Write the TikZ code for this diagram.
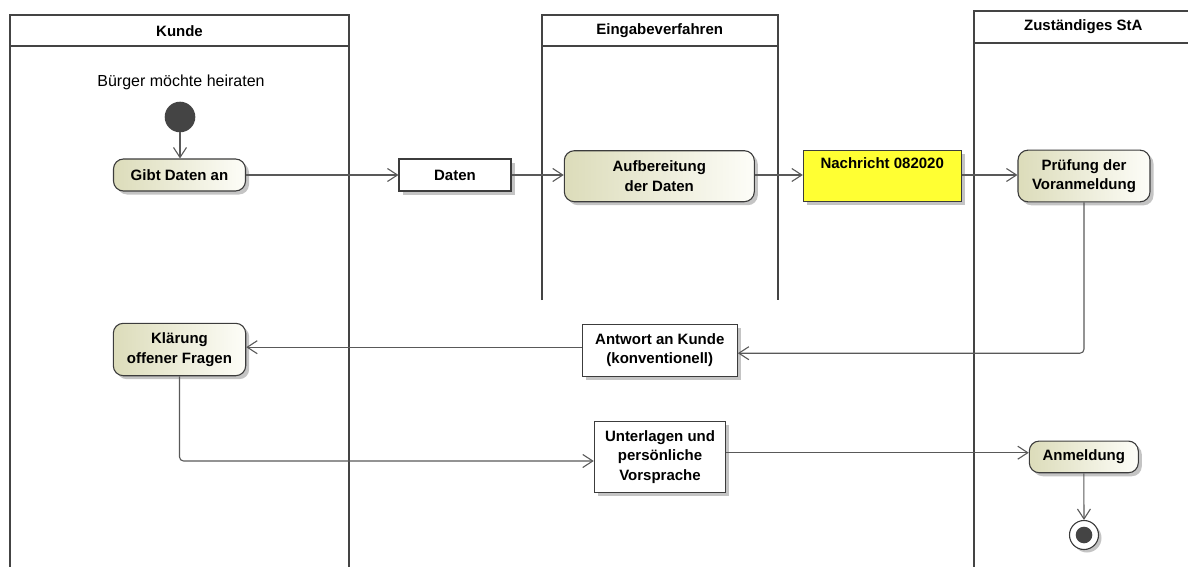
\documentclass[tikz,border=0pt]{standalone}
\usepackage{fontspec}
\setmainfont{Liberation Sans}
\usetikzlibrary{arrows.meta,shadows}
\definecolor{lanec}{HTML}{444444}
\definecolor{bordc}{HTML}{3C3C3C}
\definecolor{flowc}{HTML}{595959}
\definecolor{actL}{RGB}{220,220,186}
\definecolor{actR}{RGB}{253,253,248}
\definecolor{msgy}{RGB}{255,255,51}
\definecolor{dotc}{HTML}{444444}
\definecolor{shadc}{HTML}{C4C4C4}
\tikzset{
  lane/.style={draw=lanec, line width=2pt},
  lanetitle/.style={font=\fontsize{15}{19}\selectfont\bfseries, inner sep=0pt},
  shad/.style={drop shadow={shadow xshift=3.5pt, shadow yshift=-3.5pt, fill=shadc, opacity=1}},
  action/.style={draw=bordc, line width=1.1pt, rounded corners=10pt, left color=actL, right color=actR,
    shad, align=center, inner sep=0pt, font=\fontsize{15}{19.5}\selectfont\bfseries},
  objbox/.style={draw=bordc, line width=1.1pt, fill=white, shad, align=center, inner sep=0pt,
    font=\fontsize{15}{19.5}\selectfont\bfseries},
  msgbox/.style={objbox, fill=msgy},
  flow/.style={draw=flowc, line width=1.1pt, rounded corners=4pt, -{Straight Barb[length=10pt,width=13pt]}},
  startdot/.style={circle, fill=dotc, minimum size=30.6pt, inner sep=0pt},
  enddot/.style={circle, draw=bordc, line width=1.1pt, fill=white, minimum size=29pt, inner sep=0pt,
    drop shadow={shadow xshift=3pt, shadow yshift=-3pt, fill=shadc, opacity=1}},
}
\begin{document}
\begin{tikzpicture}[x=1pt,y=-1pt]
\useasboundingbox (0,0) rectangle (1188,567);
% swimlanes
\draw[lane] (10,567) -- (10,15) -- (349,15) -- (349,567);
\draw[lane] (10,46.5) -- (349,46.5);
\draw[lane] (541.7,300) -- (541.7,15) -- (777.7,15) -- (777.7,300);
\draw[lane] (541.7,46.5) -- (777.7,46.5);
\draw[lane] (973.5,567) -- (973.5,11) -- (1192,11);
\draw[lane] (973.5,42.7) -- (1192,42.7);
\node[lanetitle] (tKunde) at (179.5,31) {Kunde};
\node[lanetitle] (tEing) at (659.7,31) {Eingabeverfahren};
\node[lanetitle] (tStA) at (1083.3,27) {Zuständiges StA};
% nodes
\node[font=\fontsize{16}{19}\selectfont, inner sep=0pt] (startlbl) at (181,82) {Bürger möchte heiraten};
\node[startdot] (start) at (180,117) {};
\node[action, minimum width=132pt, minimum height=32pt] (gibt) at (179.5,175) {Gibt Daten an};
\node[objbox, minimum width=112pt, minimum height=32pt] (daten) at (455,175) {Daten};
\node[action, minimum width=190pt, minimum height=51pt] (aufb) at (659.3,176.2) {Aufbereitung\\der Daten};
\node[msgbox, minimum width=157.7pt, minimum height=51.4pt] (nachr) at (882.2,176) {Nachricht 082020\\\strut};
\node[action, minimum width=132pt, minimum height=51.7pt] (pruef) at (1084,176) {Prüfung der\\Voranmeldung};
\node[objbox, minimum width=155pt, minimum height=51.7pt] (antw) at (659.8,350.2) {Antwort an Kunde\\(konventionell)};
\node[action, minimum width=132.4pt, minimum height=52.4pt] (klaer) at (179.5,349.5) {Klärung\\offener Fragen};
\node[objbox, minimum width=131.4pt, minimum height=71.3pt] (unterl) at (660,456.7) {Unterlagen und\\persönliche\\Vorsprache};
\node[action, minimum width=109pt, minimum height=31.7pt] (anm) at (1083.8,456.9) {Anmeldung};
\node[enddot] (end) at (1084,535) {};
\fill[dotc] (end.center) circle (8.3pt);
% connectors
\draw[flow] (start.south) -- (start.south |- gibt.north);
\draw[flow] (gibt.east) -- (daten.west);
\draw[flow] (daten.east) -- (daten.east -| aufb.west);
\draw[flow] (aufb.east |- daten.east) -- (aufb.east |- daten.east -| nachr.west);
\draw[flow] (nachr.east |- daten.east) -- (daten.east -| pruef.west);
\draw[flow] (pruef.south) |- ([yshift=-3pt]antw.east);
\draw[flow] ([yshift=3pt]antw.west) -- ([yshift=3pt]antw.west -| klaer.east);
\draw[flow] (klaer.south) |- ([yshift=-4.3pt]unterl.west);
\draw[flow] ([yshift=4pt]unterl.east) -- ([yshift=4pt]unterl.east -| anm.west);
\draw[flow] (anm.south) -- (end.north);
\end{tikzpicture}
\end{document}
